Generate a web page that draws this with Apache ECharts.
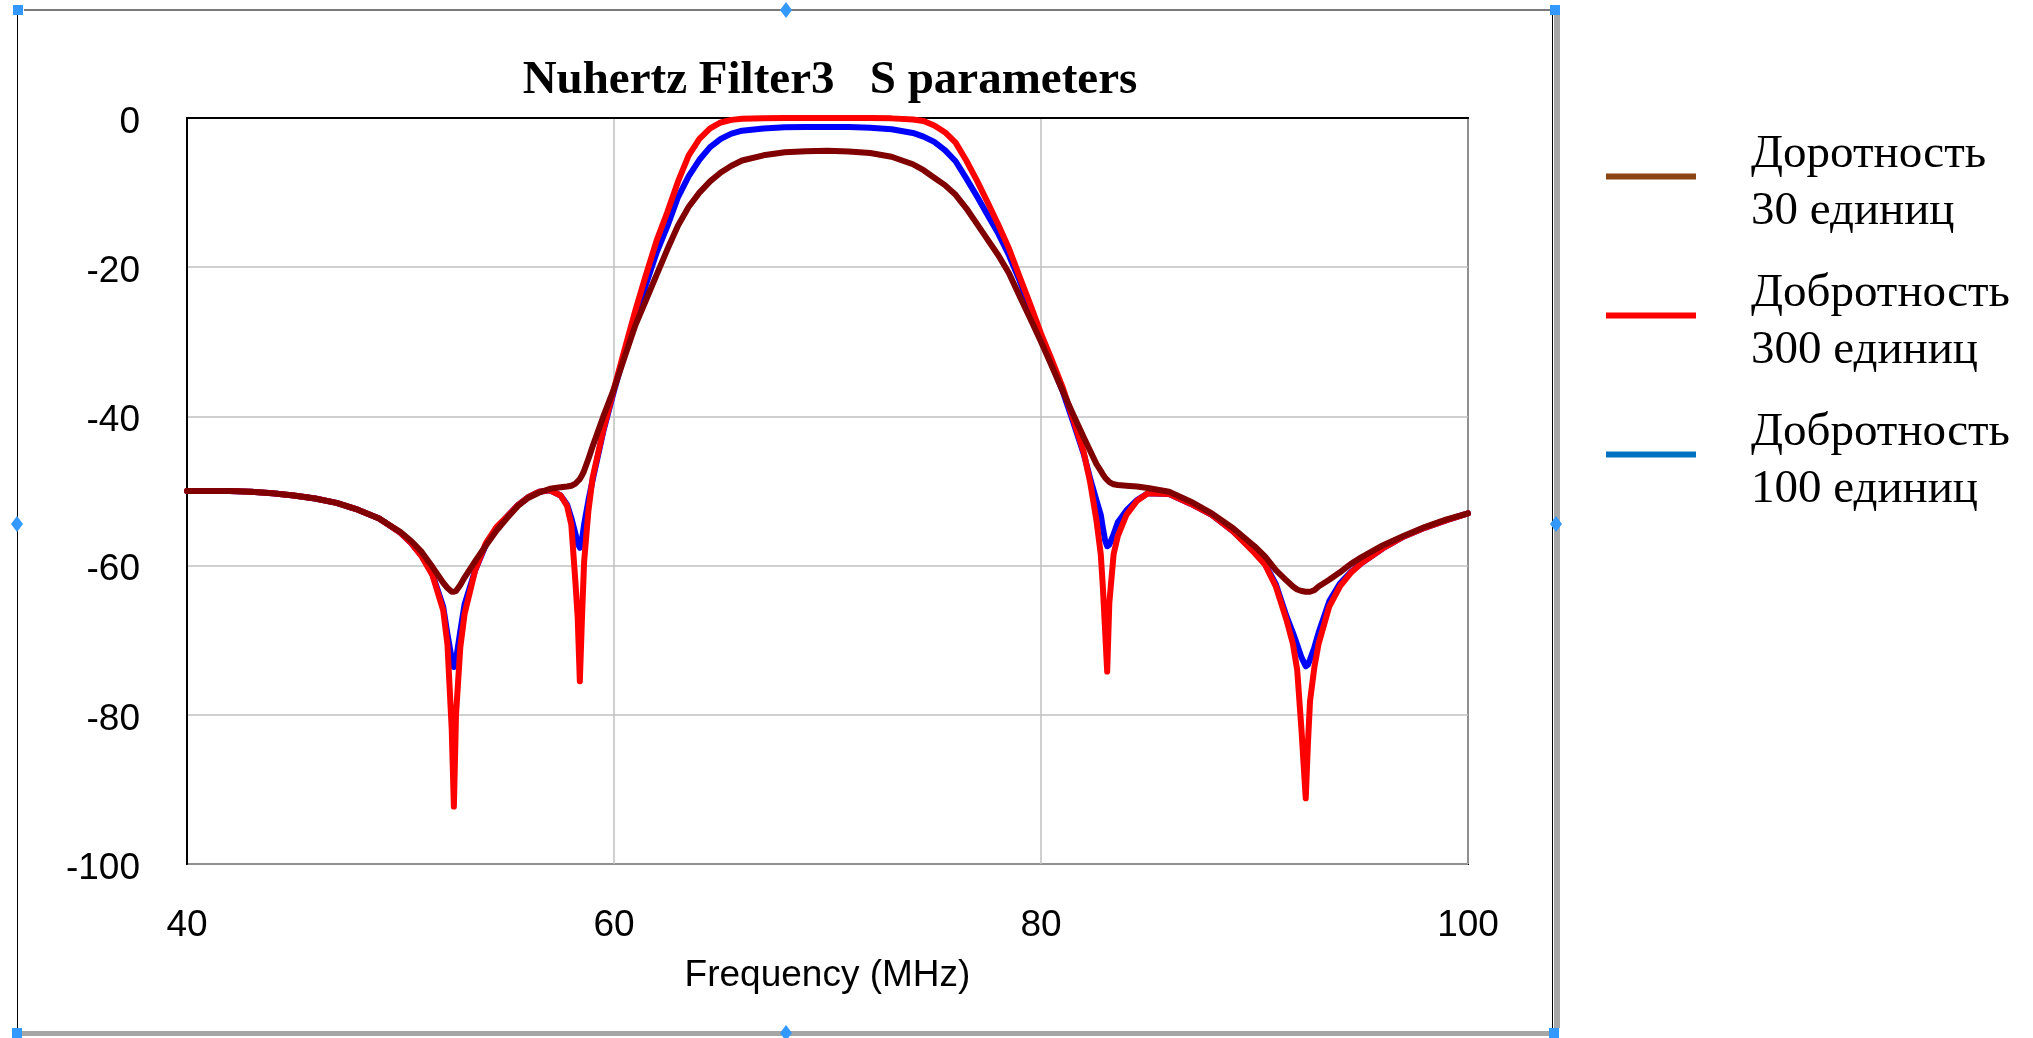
<!DOCTYPE html>
<html>
<head>
<meta charset="utf-8">
<script src="https://cdn.jsdelivr.net/npm/echarts@6/dist/echarts.min.js"></script>
<style>
  html, body { margin: 0; padding: 0; background: #ffffff; }
  #chart { width: 2033px; height: 1038px; }
</style>
</head>
<body>
<div id="chart"></div>
<script>
// ---- data (frequency in MHz, S-parameter in dB) ----
const freqMHz = [
  40, 41, 42, 43, 44, 45, 46, 47, 48, 49,
  50, 50.5, 51, 51.5, 52,
  52.2, 52.4, 52.5, 52.6, 52.8,
  53, 53.5, 54, 54.5, 55,
  55.5, 56, 56.5, 57, 57.5,
  57.8, 58, 58.2, 58.3, 58.4,
  58.5, 58.6, 58.8, 59, 59.5,
  60, 60.5, 61, 61.5, 62,
  62.5, 63, 63.5, 64, 64.5,
  65, 65.5, 66, 67, 68,
  69, 70, 71, 72, 73,
  74, 74.5, 75, 75.5, 76,
  76.5, 77, 77.5, 78, 78.5,
  79, 79.5, 80, 80.5, 81,
  81.5, 82, 82.3, 82.6, 82.8,
  82.9, 83, 83.1, 83.2, 83.4,
  83.6, 84, 84.5, 85, 86,
  87, 88, 89, 90, 90.5,
  91, 91.5, 91.8, 92, 92.2,
  92.4, 92.5, 92.6, 92.8, 93,
  93.5, 94, 94.5, 95, 96,
  97, 98, 99, 100
];

// Q = 30
const q30Db = [
  -50.0, -50.0, -50.0, -50.1, -50.3, -50.6, -51.0, -51.6, -52.5, -53.7,
  -55.5, -56.7, -58.2, -60.2, -62.3,
  -63.0, -63.5, -63.5, -63.4, -62.6,
  -61.6, -59.4, -57.3, -55.3, -53.6,
  -52.0, -50.9, -50.2, -49.7, -49.5,
  -49.4, -49.3, -49.0, -48.7, -48.4,
  -47.9, -47.3, -45.7, -44.0, -40.0,
  -36.3, -32.0, -27.8, -24.4, -21.0,
  -17.6, -14.4, -11.9, -10.0, -8.5,
  -7.3, -6.4, -5.7, -5.0, -4.6,
  -4.45, -4.4, -4.5, -4.7, -5.2,
  -6.2, -7.0, -8.0, -9.0, -10.3,
  -12.1, -14.2, -16.3, -18.4, -20.8,
  -23.9, -26.9, -30.0, -33.2, -36.5,
  -39.7, -42.8, -44.6, -46.4, -47.3,
  -47.8, -48.2, -48.5, -48.8, -49.1,
  -49.2, -49.3, -49.4, -49.6, -50.1,
  -51.4, -53.0, -55.0, -57.4, -58.8,
  -60.6, -62.0, -62.8, -63.2, -63.4,
  -63.5, -63.5, -63.5, -63.3, -62.8,
  -61.9, -60.9, -59.8, -58.9, -57.3,
  -56.0, -54.8, -53.8, -53.0
];

// Q = 300
const q300Db = [
  -50.0, -50.0, -50.0, -50.1, -50.3, -50.6, -51.0, -51.6, -52.5, -53.7,
  -55.6, -57.0, -58.8, -61.3, -66.0,
  -70.6, -82.0, -92.3, -80.0, -71.0,
  -66.5, -60.6, -57.0, -54.8, -53.4,
  -51.9, -50.8, -50.1, -49.9, -50.6,
  -52.0, -54.5, -62.5, -67.0, -75.5,
  -67.0, -59.5, -52.7, -48.2, -41.8,
  -36.3, -31.0, -25.8, -21.0, -16.4,
  -12.6, -8.5, -5.0, -2.8, -1.4,
  -0.6, -0.25, -0.1, -0.05, 0,
  0, 0, 0, 0, -0.05,
  -0.2, -0.4, -1.0, -1.9, -3.3,
  -5.7, -8.4, -11.3, -14.3, -17.5,
  -21.3, -25.0, -28.9, -32.4, -36.0,
  -40.3, -44.8, -48.8, -54.0, -58.5,
  -63.0, -68.5, -74.2, -65.0, -58.5,
  -56.0, -53.2, -51.3, -50.3, -50.4,
  -51.7, -53.2, -55.4, -58.3, -59.9,
  -62.8, -67.3, -70.5, -74.0, -82.0,
  -91.2, -84.0, -78.2, -73.7, -70.5,
  -65.5, -62.8, -61.0, -59.7, -57.7,
  -56.1, -54.9, -53.9, -53.0
];

// Q = 100
const q100Db = [
  -50.0, -50.0, -50.0, -50.1, -50.3, -50.6, -51.0, -51.6, -52.5, -53.7,
  -55.6, -57.0, -58.7, -61.2, -65.5,
  -69.2, -72.5, -73.6, -72.6, -68.8,
  -65.2, -60.6, -57.2, -54.9, -53.4,
  -51.9, -50.8, -50.1, -49.9, -50.6,
  -51.8, -53.6, -55.8, -57.0, -57.6,
  -56.5, -54.5, -51.3, -48.5, -42.0,
  -36.6, -31.5, -26.8, -22.3, -18.0,
  -14.5, -10.6, -7.8, -5.6, -3.9,
  -2.8, -2.1, -1.7, -1.4, -1.25,
  -1.2, -1.2, -1.2, -1.3, -1.5,
  -2.0, -2.5, -3.2, -4.3, -5.8,
  -8.1, -10.5, -13.0, -15.5, -18.4,
  -21.8, -25.8, -29.6, -33.0, -36.5,
  -40.7, -45.0, -48.3, -51.3, -53.2,
  -55.0, -56.6, -57.4, -57.2, -55.8,
  -54.2, -52.6, -51.2, -50.3, -50.4,
  -51.7, -53.2, -55.4, -58.2, -59.8,
  -62.5, -66.8, -69.0, -70.6, -72.3,
  -73.5, -73.3, -72.6, -71.0, -69.0,
  -64.8, -62.4, -60.9, -59.7, -57.7,
  -56.1, -54.9, -53.9, -53.0
];

const xTicks = [40, 60, 80, 100];
const yTicks = [0, -20, -40, -60, -80, -100];

const seriesNames = {
  q30: 'Доротность\n30 единиц',
  q300: 'Добротность\n300 единиц',
  q100: 'Добротность\n100 единиц'
};
const titleText = 'Nuhertz Filter3   S parameters';
const xAxisName = 'Frequency (MHz)';

// ---- chart ----
const pairs = arr => freqMHz.map((f, i) => [f, arr[i]]);

const chart = echarts.init(document.getElementById('chart'), null, { renderer: 'canvas' });

const handleColor = '#3399ff';
const sq = (x, y) => ({ type: 'rect', shape: { x: x, y: y, width: 10, height: 10 }, style: { fill: handleColor }, z: 100 });
const dia = (cx, cy) => ({ type: 'polygon', shape: { points: [[cx, cy - 8], [cx + 6, cy], [cx, cy + 8], [cx - 6, cy]] }, style: { fill: handleColor }, z: 100 });

// legend swatch: a 90x6 bar placed in the upper part of a 90x19 icon box
const legendIcon = 'path://M0,0L90,0L90,6L0,6Z M0,18.9L0.05,19Z';

const option = {
  animation: false,
  backgroundColor: '#ffffff',
  title: {
    text: titleText,
    left: 825,
    textAlign: 'center',
    top: 52,
    textStyle: { fontFamily: 'Liberation Serif', fontWeight: 'bold', fontSize: 47, color: '#000' }
  },
  grid: {
    left: 187, right: 565, top: 118, bottom: 174,
    show: true, borderColor: '#000', borderWidth: 2, backgroundColor: 'transparent'
  },
  legend: {
    orient: 'vertical',
    left: 1601,
    top: 121,
    itemWidth: 90,
    itemHeight: 19,
    itemGap: 25,
    icon: legendIcon,
    data: [
      { name: seriesNames.q30, itemStyle: { color: '#8b4513', borderWidth: 0 } },
      { name: seriesNames.q300, itemStyle: { color: '#ff0000', borderWidth: 0 } },
      { name: seriesNames.q100, itemStyle: { color: '#0070c0', borderWidth: 0 } }
    ],
    textStyle: {
      fontFamily: 'Liberation Serif', fontSize: 47, lineHeight: 57, color: '#000',
      padding: [0, 0, 0, 50]
    }
  },
  xAxis: {
    type: 'value',
    min: 40, max: 100, interval: 20,
    name: xAxisName,
    nameLocation: 'middle',
    nameGap: 93,
    nameTextStyle: { fontFamily: 'Liberation Sans', fontSize: 37, color: '#000' },
    axisLine: { show: true, lineStyle: { color: '#000', width: 2 } },
    axisTick: { show: false },
    axisLabel: {
      fontFamily: 'Liberation Sans', fontSize: 37, color: '#000', margin: 43,
      formatter: v => (xTicks.indexOf(v) >= 0 ? String(v) : '')
    },
    splitLine: { show: true, lineStyle: { color: '#c0c0c0', width: 1.5 } }
  },
  yAxis: {
    type: 'value',
    min: -100, max: 0, interval: 20,
    axisLine: { show: true, lineStyle: { color: '#000', width: 2 } },
    axisTick: { show: false },
    axisLabel: {
      fontFamily: 'Liberation Sans', fontSize: 37, color: '#000', margin: 47,
      verticalAlign: 'top', lineHeight: 9,
      formatter: v => (yTicks.indexOf(v) >= 0 ? String(v) : '')
    },
    splitLine: { show: true, lineStyle: { color: '#c0c0c0', width: 1.5 } }
  },
  series: [
    {
      name: seriesNames.q100, type: 'line', data: pairs(q100Db),
      showSymbol: false, symbol: 'none', z: 2,
      itemStyle: { color: '#0070c0' },
      lineStyle: { color: '#0000ff', width: 6, join: 'round', cap: 'round' }
    },
    {
      name: seriesNames.q300, type: 'line', data: pairs(q300Db),
      showSymbol: false, symbol: 'none', z: 3,
      itemStyle: { color: '#ff0000' },
      lineStyle: { color: '#ff0000', width: 6, join: 'round', cap: 'round' }
    },
    {
      name: seriesNames.q30, type: 'line', data: pairs(q30Db),
      showSymbol: false, symbol: 'none', z: 4,
      itemStyle: { color: '#8b4513' },
      lineStyle: { color: '#800000', width: 6, join: 'round', cap: 'round' }
    }
  ],
  graphic: [
    // frame around the chart (selection-frame look)
    { type: 'rect', shape: { x: 24, y: 9, width: 1526, height: 2 }, style: { fill: '#7a7a7a' }, z: 90 },
    { type: 'rect', shape: { x: 17, y: 15, width: 1, height: 1013 }, style: { fill: '#000' }, z: 90 },
    { type: 'rect', shape: { x: 1552, y: 15, width: 1, height: 1013 }, style: { fill: '#000' }, z: 90 },
    { type: 'rect', shape: { x: 1554, y: 15, width: 6, height: 1013 }, style: { fill: '#a6a6a6' }, z: 90 },
    { type: 'rect', shape: { x: 20, y: 1031, width: 1529, height: 5 }, style: { fill: '#a6a6a6' }, z: 90 },
    sq(13, 5), sq(1550, 5), sq(12, 1028), sq(1549, 1028),
    dia(786, 10), dia(17, 524), dia(1556, 524), dia(786, 1033)
  ]
};

chart.setOption(option);
</script>
</body>
</html>
